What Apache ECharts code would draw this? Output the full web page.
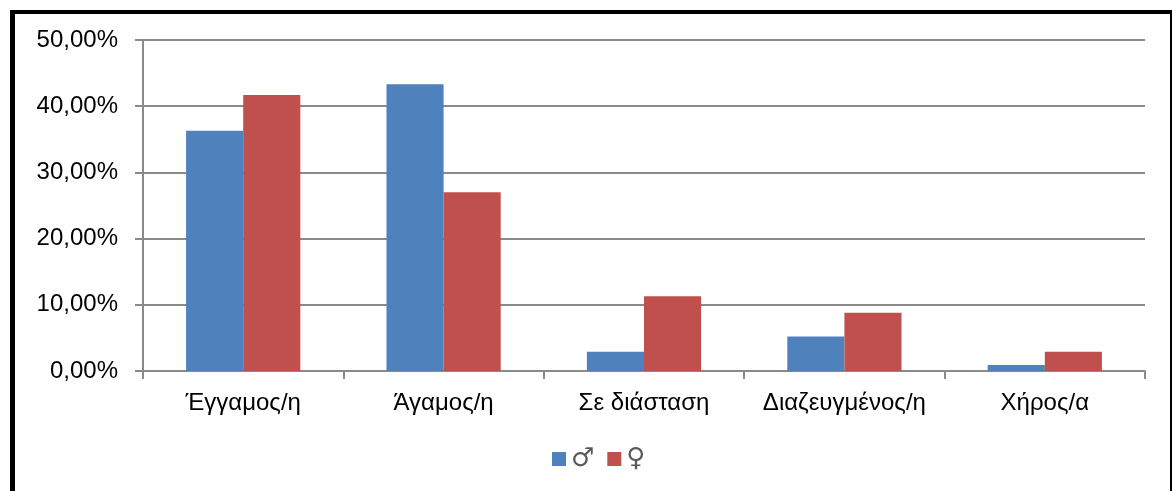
<!DOCTYPE html>
<html>
<head>
<meta charset="utf-8">
<script src="https://cdn.jsdelivr.net/npm/echarts@6/dist/echarts.min.js"></script>
<style>
  html, body { margin: 0; padding: 0; background: #ffffff; }
  #chart { width: 1173px; height: 491px; }
</style>
</head>
<body>
<div id="chart"></div>
<script>
// Marital status by sex (percent of respondents)
const categories = ['Έγγαμος/η', 'Άγαμος/η', 'Σε διάσταση', 'Διαζευγμένος/η', 'Χήρος/α'];
const seriesNames = ['♂', '♀'];
const maleValues = [36.3, 43.3, 2.9, 5.2, 0.9];
const femaleValues = [41.7, 27.0, 11.3, 8.8, 2.9];
const yTicks = { min: 0, max: 50, interval: 10 };

const axisGray = '#8a8a8a';
const fontFamily = '"Liberation Sans", Arial, sans-serif';

const chart = echarts.init(document.getElementById('chart'), null, { renderer: 'canvas' });

chart.setOption({
  backgroundColor: '#ffffff',
  animation: false,
  grid: { left: 143, right: 28, top: 40, bottom: 120, containLabel: false },
  legend: {
    left: 547,
    top: 441,
    itemWidth: 14,
    itemHeight: 14,
    itemGap: 13,
    icon: 'rect',
    textStyle: { fontFamily: '"DejaVu Sans", sans-serif', fontSize: 26, color: '#595959' },
    data: seriesNames
  },
  xAxis: {
    type: 'category',
    data: categories,
    axisLine: { lineStyle: { color: axisGray, width: 2 } },
    axisTick: { show: true, length: 8, alignWithLabel: false, lineStyle: { color: axisGray, width: 2 } },
    axisLabel: { fontFamily: fontFamily, fontSize: 24, color: '#000000', margin: 20, interval: 0 },
    splitLine: { show: false }
  },
  yAxis: {
    type: 'value',
    min: yTicks.min,
    max: yTicks.max,
    interval: yTicks.interval,
    axisLine: { show: true, lineStyle: { color: axisGray, width: 2 } },
    axisTick: { show: true, length: 8, inside: false, lineStyle: { color: axisGray, width: 2 } },
    axisLabel: {
      fontFamily: fontFamily, fontSize: 24, color: '#000000', margin: 25,
      formatter: v => v.toFixed(2).replace('.', ',') + '%'
    },
    splitLine: { show: true, lineStyle: { color: axisGray, width: 2 } }
  },
  series: [
    {
      name: seriesNames[0],
      type: 'bar',
      data: maleValues,
      barGap: '0%',
      barCategoryGap: '43%',
      itemStyle: { color: '#4F81BD' }
    },
    {
      name: seriesNames[1],
      type: 'bar',
      data: femaleValues,
      barGap: '0%',
      barCategoryGap: '43%',
      itemStyle: { color: '#C0504D' }
    }
  ],
  graphic: [
    // outer frame of the chart area
    { type: 'rect', silent: true, shape: { x: 10, y: 10, width: 1162, height: 4 }, style: { fill: '#000000' } },
    { type: 'rect', silent: true, shape: { x: 10, y: 10, width: 5, height: 481 }, style: { fill: '#000000' } },
    { type: 'rect', silent: true, shape: { x: 1170, y: 10, width: 2, height: 481 }, style: { fill: '#000000' } }
  ]
});
</script>
</body>
</html>
